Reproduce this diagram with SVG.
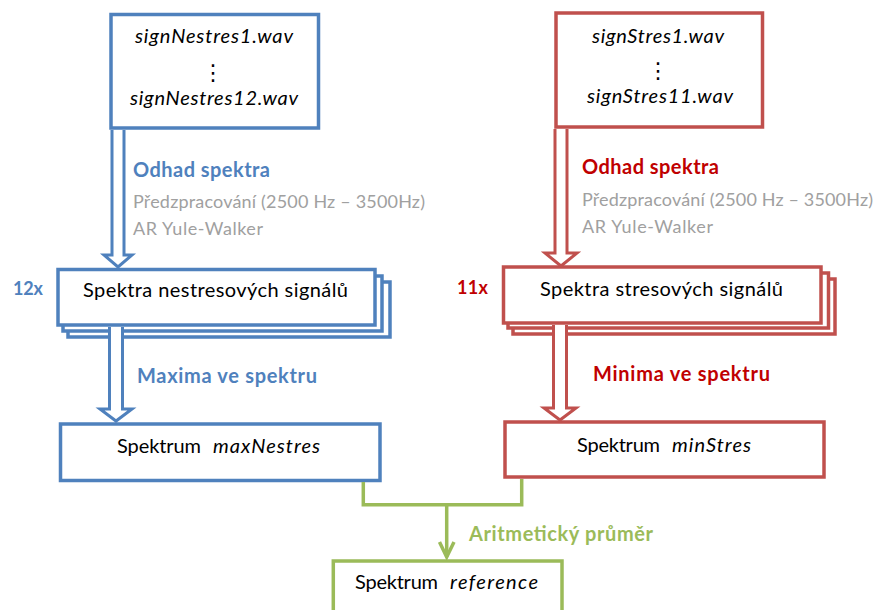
<svg xmlns="http://www.w3.org/2000/svg" width="874" height="610" viewBox="0 0 874 610">
<style>
.bx{fill:#fff;stroke-width:3.5}
.b{stroke:#4f81bd}
.r{stroke:#c0504d}
.g{stroke:#9bbb59}
.arr{fill:#fff;stroke-width:3;stroke-linejoin:miter}
text{font-family:Lato,"Open Sans","Liberation Sans",sans-serif;fill:#000}
.fn{font-size:20px;font-style:italic}
.nd{font-size:20px}
.it{font-style:italic}
.lbl{font-size:20px;font-weight:bold}
.gr{font-size:18px;fill:#a0a0a0}
.tb{fill:#4f81bd}
.tr{fill:#c00000}
.tg{fill:#9bbb59}
.dots{font-family:"DejaVu Sans",sans-serif;font-size:22px;text-anchor:middle}
</style>
<rect width="874" height="610" fill="#fff"/>

<g id="nestres-files">
<rect class="bx b" x="111" y="14.5" width="207.5" height="113.5"/>
<text class="fn" x="135" y="43" textLength="158">signNestres1.wav</text>
<text class="dots" x="213" y="80">⋮</text>
<text class="fn" x="130" y="105" textLength="168">signNestres12.wav</text>
</g>

<g id="stres-files">
<rect class="bx r" x="556" y="13" width="206.5" height="114"/>
<text class="fn" x="592" y="43" textLength="132">signStres1.wav</text>
<text class="dots" x="658" y="78">⋮</text>
<text class="fn" x="587" y="103" textLength="146">signStres11.wav</text>
</g>

<g id="nestres-spectra">
<rect class="bx b" x="68" y="282" width="322" height="55"/>
<rect class="bx b" x="63" y="276" width="319" height="55"/>
<rect class="bx b" x="58" y="269.5" width="317" height="55.5"/>
<text class="nd" x="83" y="297" textLength="265">Spektra nestresových signálů</text>
</g>

<g id="stres-spectra">
<rect class="bx r" x="513" y="279" width="322" height="55"/>
<rect class="bx r" x="508" y="273" width="320.5" height="55"/>
<rect class="bx r" x="503.5" y="267" width="317.5" height="56"/>
<text class="nd" x="540" y="296" textLength="243">Spektra stresových signálů</text>
</g>

<g id="max-nestres">
<rect class="bx b" x="60.5" y="424" width="319.5" height="56.5"/>
<text class="nd" x="117" y="453" textLength="84">Spektrum</text>
<text class="nd it" x="213" y="453" textLength="107">maxNestres</text>
</g>

<g id="min-stres">
<rect class="bx r" x="505" y="422" width="319" height="55"/>
<text class="nd" x="577" y="452" textLength="83">Spektrum</text>
<text class="nd it" x="672" y="452" textLength="79">minStres</text>
</g>

<g id="reference">
<rect class="bx g" x="333.3" y="561" width="228.7" height="60"/>
<text class="nd" x="355" y="589" textLength="83">Spektrum</text>
<text class="nd it" x="450" y="589" textLength="88">reference</text>
</g>

<g id="connectors">
<polyline class="arr b" points="112,130 112,255 104,255 118,267 132,255 124,255 124,130"/>
<polyline class="arr r" points="555,129 555,253 545,253 561,266 577,253 567,253 567,129"/>
<polyline class="arr b" points="109.5,327 109.5,409 100,409 116,421 132,409 122.5,409 122.5,327"/>
<polyline class="arr r" points="553.5,325 553.5,408 544,408 560,420 576,408 566.5,408 566.5,325"/>
<polyline points="363.3,482 363.3,504.7 521.7,504.7 521.7,479" fill="none" stroke="#9bbb59" stroke-width="3.5"/>
<line x1="446.7" y1="504.7" x2="446.7" y2="557" stroke="#9bbb59" stroke-width="3.5"/>
<polyline points="439.5,542 446.7,557 454,542" fill="none" stroke="#9bbb59" stroke-width="3.5"/>
</g>

<g id="labels">
<text class="lbl tb" x="133" y="177" textLength="137">Odhad spektra</text>
<text class="gr" x="133" y="208" textLength="292">Předzpracování (2500 Hz – 3500Hz)</text>
<text class="gr" x="133" y="235" textLength="130">AR Yule-Walker</text>
<text class="lbl tb" x="13" y="295" textLength="30" style="font-size:18px">12x</text>
<text class="lbl tb" x="137" y="383" textLength="180">Maxima ve spektru</text>
<text class="lbl tr" x="582" y="174" textLength="137">Odhad spektra</text>
<text class="gr" x="582" y="206" textLength="291">Předzpracování (2500 Hz – 3500Hz)</text>
<text class="gr" x="582" y="233" textLength="131">AR Yule-Walker</text>
<text class="lbl tr" x="457" y="294" textLength="31" style="font-size:18px">11x</text>
<text class="lbl tr" x="593" y="381" textLength="177">Minima ve spektru</text>
<text class="lbl tg" x="469" y="541" textLength="184">Aritmetický průměr</text>
</g>
</svg>
